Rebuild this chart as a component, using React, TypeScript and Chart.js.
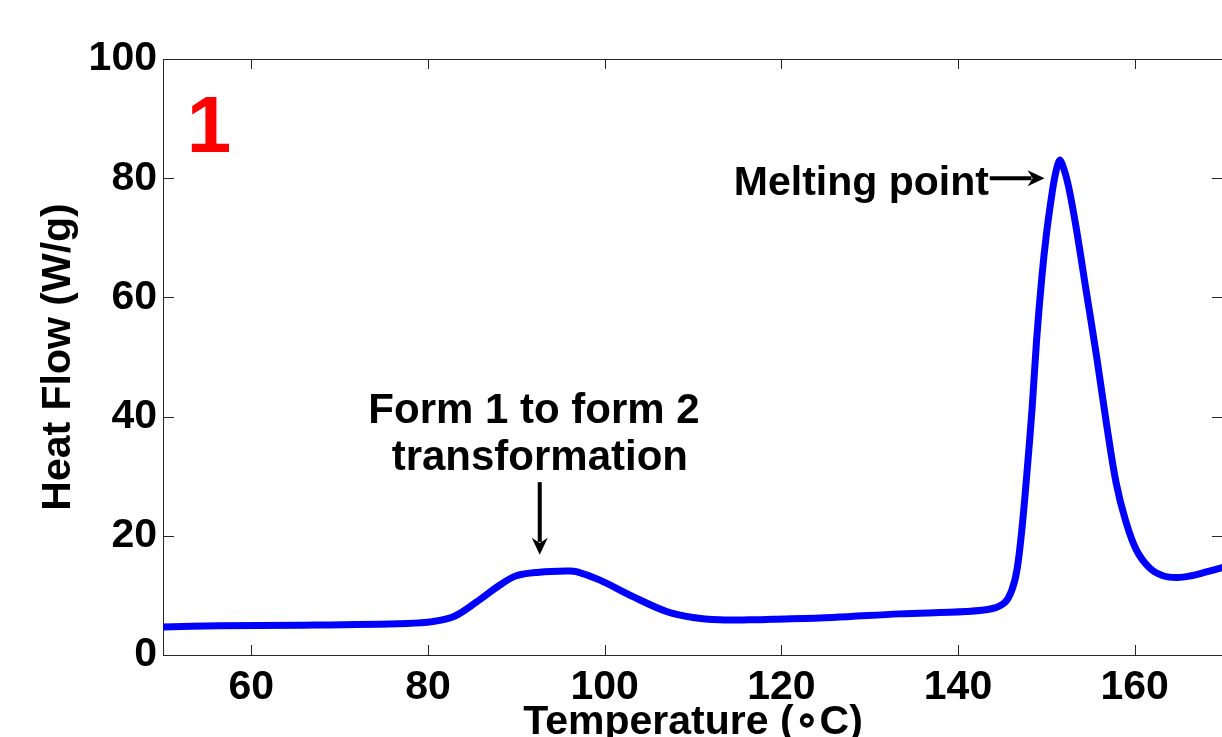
import React, { useEffect, useRef } from "react";
import { Chart, registerables } from "chart.js";
Chart.register(...registerables);

// Temperature (°C) samples
const temperature = [
  50.0, 56.4, 65.5, 77.6, 80.5, 83.0, 85.5, 88.1, 90.0, 92.6,
  95.7, 96.8, 99.4, 103.2, 107.0, 110.0, 113.0, 116.4, 119.0, 125.8,
  133.4, 140.9, 143.9, 145.3, 146.1, 146.7, 147.3, 147.8, 148.4, 148.9,
  149.5, 150.0, 150.6, 151.0, 151.5, 152.0, 152.6, 153.4, 154.5, 155.7,
  156.8, 157.9, 159.0, 160.2, 161.7, 163.2, 164.8, 166.4, 168.0, 170.0,
];
// Heat flow (W/g)
const heatFlow = [
  4.7, 4.9, 5.0, 5.3, 5.6, 6.5, 8.9, 11.7, 13.3, 13.9,
  14.1, 14.0, 12.6, 9.8, 7.3, 6.3, 5.9, 5.9, 6.0, 6.3,
  6.9, 7.3, 7.8, 8.8, 10.9, 14.5, 22.1, 30.5, 41.6, 52.9,
  63.5, 70.5, 77.0, 80.5, 83.0, 81.5, 78.0, 71.5, 61.2, 50.0,
  38.9, 28.9, 22.4, 17.6, 14.6, 13.3, 13.0, 13.3, 13.9, 14.7,
];

const xTicks = [60, 80, 100, 120, 140, 160];
const yTicks = [0, 20, 40, 60, 80, 100];
const xRange = [50, 170];
const yRange = [0, 100];

// Annotations (data coordinates)
const panelLabel = { text: "1", x: 55.2, y: 84.4 };
const meltLabel = { text: "Melting point", x: 143.5, y: 77.2 };
const meltArrow = { x1: 143.6, y1: 80.0, x2: 149.8, y2: 80.0 };
const formLines = ["Form 1 to form 2", " transformation"];
const formLabel = { x: 92.0, y: [39.0, 31.0] };
const formArrow = { x1: 92.65, y1: 29.0, x2: 92.65, y2: 16.8 };

const FONT = "'Liberation Sans', Arial, Helvetica, sans-serif";

function drawArrow(ctx: CanvasRenderingContext2D, x1: number, y1: number, x2: number, y2: number) {
  const ang = Math.atan2(y2 - y1, x2 - x1);
  const headLen = 17;
  const headHalf = 8;
  const bx = x2 - headLen * Math.cos(ang);
  const by = y2 - headLen * Math.sin(ang);
  ctx.beginPath();
  ctx.moveTo(x1, y1);
  ctx.lineTo(bx + 4 * Math.cos(ang), by + 4 * Math.sin(ang));
  ctx.stroke();
  ctx.beginPath();
  ctx.moveTo(x2, y2);
  ctx.lineTo(bx + headHalf * Math.sin(ang), by - headHalf * Math.cos(ang));
  ctx.lineTo(bx + headLen * 0.3 * Math.cos(ang), by + headLen * 0.3 * Math.sin(ang));
  ctx.lineTo(bx - headHalf * Math.sin(ang), by + headHalf * Math.cos(ang));
  ctx.closePath();
  ctx.fill();
}

const framePlugin = {
  id: "frame",
  beforeDatasetsDraw(chart: any) {
    const { ctx, chartArea: a, scales } = chart;
    const x = scales.x;
    const y = scales.y;
    ctx.save();
    ctx.strokeStyle = "#262626";
    ctx.lineWidth = 1;
    ctx.strokeRect(a.left + 0.5, a.top + 0.5, a.right - a.left, a.bottom - a.top);
    ctx.beginPath();
    for (const v of xTicks) {
      const px = Math.round(x.getPixelForValue(v)) + 0.5;
      ctx.moveTo(px, a.bottom);
      ctx.lineTo(px, a.bottom - 10);
      ctx.moveTo(px, a.top);
      ctx.lineTo(px, a.top + 10);
    }
    for (const v of yTicks) {
      const py = Math.round(y.getPixelForValue(v)) + 0.5;
      ctx.moveTo(a.left, py);
      ctx.lineTo(a.left + 11, py);
      ctx.moveTo(a.right, py);
      ctx.lineTo(a.right - 11, py);
    }
    ctx.stroke();
    ctx.restore();
  },
};

const annotationPlugin = {
  id: "annotations",
  afterDatasetsDraw(chart: any) {
    const { ctx, scales } = chart;
    const X = (v: number) => scales.x.getPixelForValue(v);
    const Y = (v: number) => scales.y.getPixelForValue(v);
    ctx.save();
    ctx.textBaseline = "alphabetic";
    // panel number
    ctx.fillStyle = "#ff0000";
    ctx.font = `bold 80px ${FONT}`;
    ctx.textAlign = "center";
    ctx.fillText(panelLabel.text, X(panelLabel.x), Y(panelLabel.y));
    // melting point
    ctx.fillStyle = "#000";
    ctx.strokeStyle = "#000";
    ctx.lineWidth = 4;
    ctx.font = `bold 41px ${FONT}`;
    ctx.textAlign = "right";
    ctx.fillText(meltLabel.text, X(meltLabel.x), Y(meltLabel.y));
    drawArrow(ctx, X(meltArrow.x1), Y(meltArrow.y1), X(meltArrow.x2), Y(meltArrow.y2));
    // form transformation
    ctx.font = `bold 42px ${FONT}`;
    ctx.textAlign = "center";
    formLines.forEach((t, i) => ctx.fillText(t, X(formLabel.x), Y(formLabel.y[i])));
    drawArrow(ctx, X(formArrow.x1), Y(formArrow.y1), X(formArrow.x2), Y(formArrow.y2));
    ctx.restore();
  },
};

export default function App() {
  const ref = useRef<HTMLCanvasElement | null>(null);
  useEffect(() => {
    if (!ref.current) return;
    const chart = new Chart(ref.current, {
      type: "line",
      data: {
        datasets: [
          {
            data: temperature.map((t, i) => ({ x: t, y: heatFlow[i] })),
            borderColor: "#0000ff",
            borderWidth: 7,
            pointRadius: 0,
            fill: false,
            tension: 0.35,
            borderCapStyle: "round",
            borderJoinStyle: "round",
          },
        ],
      },
      options: {
        responsive: false,
        animation: false,
        devicePixelRatio: 1,
        layout: { padding: { top: 59, right: 7, left: 0, bottom: 0 } },
        plugins: { legend: { display: false }, tooltip: { enabled: false } },
        scales: {
          x: {
            type: "linear",
            min: xRange[0],
            max: xRange[1],
            afterBuildTicks: (s: any) => {
              s.ticks = xTicks.map((v) => ({ value: v }));
            },
            afterFit: (s: any) => {
              s.height = 105;
            },
            grid: { display: false, drawTicks: false },
            border: { display: false },
            ticks: {
              color: "#000",
              font: { family: FONT, size: 41, weight: "bold" },
              padding: 8,
              maxRotation: 0,
              autoSkip: false,
            },
            title: {
              display: true,
              text: "Temperature (\u2218C)",
              color: "#000",
              font: { family: FONT, size: 41, weight: "bold" },
              padding: { top: 0, bottom: 13 },
            },
          },
          y: {
            type: "linear",
            min: yRange[0],
            max: yRange[1],
            afterBuildTicks: (s: any) => {
              s.ticks = yTicks.map((v) => ({ value: v }));
            },
            afterFit: (s: any) => {
              s.width = 163;
            },
            grid: { display: false, drawTicks: false },
            border: { display: false },
            ticks: {
              color: "#000",
              font: { family: FONT, size: 41, weight: "bold" },
              padding: 6,
            },
            title: {
              display: true,
              text: "Heat Flow (W/g)",
              color: "#000",
              font: { family: FONT, size: 41, weight: "bold" },
              padding: { top: 34, bottom: 0 },
            },
          },
        },
      },
      plugins: [framePlugin, annotationPlugin],
    } as any);
    return () => chart.destroy();
  }, []);
  return (
    <div
      style={{
        position: "absolute",
        left: 0,
        top: 0,
        width: 1222,
        height: 737,
        overflow: "hidden",
        background: "#fff",
      }}
    >
      <canvas ref={ref} width={1230} height={760} style={{ display: "block" }} />
    </div>
  );
}
